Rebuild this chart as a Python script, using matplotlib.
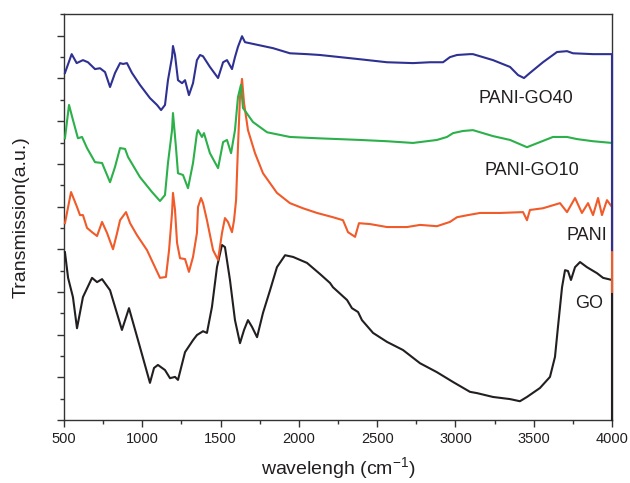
import matplotlib
matplotlib.use("Agg")
import matplotlib.pyplot as plt
from matplotlib.ticker import MultipleLocator, NullFormatter

plt.rcParams['font.family'] = ['Liberation Sans', 'DejaVu Sans']
plt.rcParams['mathtext.fontset'] = 'custom'
plt.rcParams['mathtext.rm'] = 'Liberation Sans'
plt.rcParams['mathtext.default'] = 'regular'

# FTIR spectra, offset stacked (transmission in a.u.)
go_wn = [506, 526, 557, 583, 621, 679, 711, 743, 794, 870, 915, 985, 1049, 1075, 1100,
         1145, 1177, 1209, 1228, 1273, 1324, 1349, 1388, 1413, 1445, 1477, 1509, 1528,
         1560, 1592, 1624, 1650, 1675, 1701, 1733, 1771, 1816, 1860, 1912, 1963, 2052,
         2135, 2199, 2218, 2308, 2339, 2378, 2403, 2474, 2563, 2665, 2774, 2882, 2985,
         3093, 3138, 3240, 3349, 3412, 3457, 3540, 3604, 3636, 3655, 3681, 3700, 3719,
         3738, 3764, 3796, 3840, 3904, 3943, 4000, 4000]
go_t = [3.93, 3.33, 2.88, 2.15, 2.88, 3.33, 3.23, 3.30, 3.04, 2.11, 2.62, 1.71, 0.87, 1.22,
        1.29, 1.17, 0.98, 1.01, 0.94, 1.59, 1.87, 1.99, 2.08, 2.04, 2.65, 3.58, 4.10, 4.05,
        3.28, 2.34, 1.80, 2.11, 2.34, 2.18, 1.94, 2.51, 3.04, 3.58, 3.86, 3.82, 3.68,
        3.42, 3.21, 3.11, 2.81, 2.62, 2.53, 2.34, 2.04, 1.83, 1.64, 1.33, 1.12, 0.89,
        0.66, 0.63, 0.54, 0.49, 0.44, 0.54, 0.75, 1.01, 1.48, 2.18, 3.11, 3.51, 3.49,
        3.28, 3.58, 3.70, 3.58, 3.44, 3.33, 3.28, 0.0]

pani_wn = [506, 545, 583, 602, 621, 647, 679, 711, 743, 775, 813, 839, 858, 896, 922, 966,
           1030, 1081, 1113, 1151, 1171, 1190, 1196, 1209, 1222, 1241, 1273, 1298, 1324,
           1349, 1356, 1375, 1388, 1413, 1452, 1484, 1509, 1528, 1547, 1573, 1586, 1599,
           1611, 1624, 1637, 1650, 1675, 1720, 1771, 1860, 1943, 2026, 2116, 2218, 2282,
           2314, 2359, 2384, 2454, 2563, 2691, 2774, 2882, 2965, 3010, 3080, 3157, 3285,
           3432, 3457, 3476, 3559, 3668, 3713, 3764, 3808, 3847, 3879, 3911, 3936, 3968,
           4000, 4000]
pani_t = [4.61, 5.34, 4.99, 4.80, 4.80, 4.50, 4.40, 4.31, 4.64, 4.38, 4.00, 4.38, 4.68, 4.87,
          4.61, 4.33, 3.98, 3.58, 3.33, 3.35, 3.98, 4.85, 5.32, 4.92, 4.15, 3.79, 3.77, 3.47,
          3.82, 4.38, 4.99, 5.20, 5.08, 4.68, 3.98, 3.75, 4.38, 4.73, 4.64, 4.40, 4.68, 5.15,
          6.39, 7.56, 7.99, 7.42, 6.79, 6.25, 5.78, 5.32, 5.08, 4.96, 4.85, 4.75, 4.68,
          4.40, 4.29, 4.61, 4.59, 4.52, 4.52, 4.57, 4.54, 4.64, 4.75, 4.80, 4.85, 4.85,
          4.87, 4.68, 4.92, 4.96, 5.08, 4.87, 5.20, 4.85, 5.08, 4.80, 5.20, 4.80, 5.15,
          4.99, 3.00]

go10_wn = [506, 532, 557, 589, 615, 647, 698, 743, 794, 826, 858, 890, 909, 985, 1062, 1113,
           1145, 1164, 1190, 1196, 1215, 1228, 1260, 1292, 1324, 1349, 1356, 1381, 1394,
           1432, 1484, 1516, 1541, 1567, 1592, 1611, 1630, 1643, 1707, 1797, 1943, 2116,
           2391, 2563, 2729, 2882, 2946, 2985, 3048, 3112, 3240, 3349, 3457, 3540, 3623,
           3713, 3777, 3879, 4000]
go10_t = [6.60, 7.38, 7.03, 6.60, 6.63, 6.37, 6.04, 6.02, 5.57, 5.93, 6.37, 6.35, 6.16, 5.69,
          5.34, 5.13, 5.27, 6.02, 6.79, 7.19, 6.39, 5.78, 5.74, 5.43, 6.02, 6.72, 6.79, 6.63,
          6.72, 6.25, 5.90, 6.51, 6.56, 6.25, 6.79, 7.56, 7.85, 7.31, 6.98, 6.74, 6.63, 6.60,
          6.56, 6.53, 6.49, 6.56, 6.63, 6.72, 6.77, 6.79, 6.65, 6.56, 6.39, 6.51, 6.63,
          6.63, 6.58, 6.53, 6.49]

go40_wn = [506, 549, 581, 621, 653, 698, 730, 762, 794, 826, 858, 877, 902, 934, 985, 1049,
           1094, 1120, 1145, 1164, 1190, 1196, 1209, 1228, 1254, 1273, 1298, 1324, 1349,
           1369, 1388, 1432, 1484, 1516, 1541, 1573, 1592, 1611, 1637, 1656, 1707, 1835,
           1943, 2052, 2135, 2391, 2563, 2729, 2838, 2921, 2965, 3010, 3093, 3112, 3240,
           3349, 3400, 3438, 3476, 3559, 3649, 3713, 3751, 3879, 4000, 4000]
go40_t = [8.13, 8.57, 8.36, 8.43, 8.38, 8.22, 8.24, 8.15, 7.80, 8.13, 8.36, 8.34, 8.36, 8.13,
          7.85, 7.54, 7.38, 7.26, 7.38, 7.96, 8.50, 8.76, 8.55, 7.96, 7.89, 7.96, 7.61, 7.89,
          8.43, 8.55, 8.52, 8.27, 8.01, 8.38, 8.43, 8.22, 8.50, 8.74, 8.99, 8.85, 8.81, 8.71,
          8.59, 8.57, 8.55, 8.45, 8.38, 8.36, 8.38, 8.38, 8.50, 8.55, 8.57, 8.57, 8.43,
          8.27, 8.08, 8.01, 8.13, 8.38, 8.62, 8.64, 8.59, 8.57, 8.57, 3.98]

labels = ["GO", "PANI", "PANI-GO10", "PANI-GO40"]
label_pos = [(3853, 2.72), (3840, 4.33), (3489, 5.85), (3451, 7.54)]
colors = ["#231f20", "#f15a29", "#2bb04a", "#2e3192"]

fig = plt.figure(figsize=(6.3, 4.83), dpi=100)
ax = fig.add_axes([0.1016, 0.1304, 0.8698, 0.8406])

series = [(go_wn, go_t), (pani_wn, pani_t), (go10_wn, go10_t), (go40_wn, go40_t)]
for (wn, t), c in zip(series, colors):
    ax.plot(wn, t, color=c, lw=1.5, zorder=3, clip_on=False)

for name, (x, y) in zip(labels, label_pos):
    ax.text(x, y, name, ha="center", va="center", fontsize=13, color="#231f20")

ax.set_xlim(500, 4000)
ax.set_ylim(0, 9.51)
ax.xaxis.set_major_locator(MultipleLocator(500))
ax.xaxis.set_minor_locator(MultipleLocator(250))
ax.yaxis.set_major_locator(MultipleLocator(1))
ax.yaxis.set_minor_locator(MultipleLocator(0.5))
ax.yaxis.set_major_formatter(NullFormatter())
ax.tick_params(axis="both", which="major", direction="out", length=5, width=1,
               color="#333333", labelsize=10.5, labelcolor="#231f20")
ax.tick_params(axis="both", which="minor", direction="out", length=3, width=1,
               color="#333333")
ax.tick_params(top=False, right=False, which="both")

for s in ax.spines.values():
    s.set_color("#333333")
    s.set_linewidth(1.0)
    s.set_zorder(1)

ax.set_xlabel("wavelengh (cm$^{-1}$)", fontsize=14, color="#231f20", labelpad=7)
ax.set_ylabel("Transmission(a.u.)", fontsize=14, color="#231f20", labelpad=16)

fig.savefig("out.png", dpi=100)
